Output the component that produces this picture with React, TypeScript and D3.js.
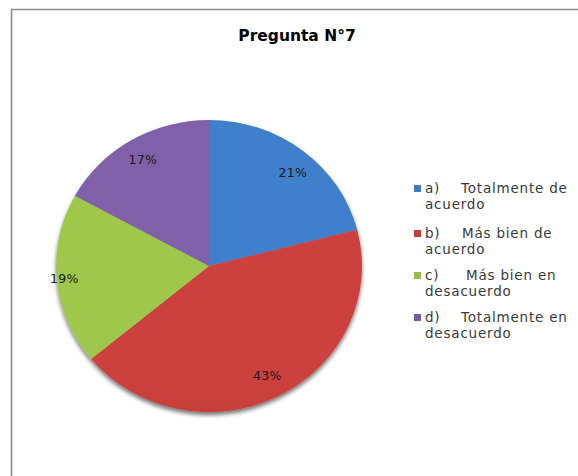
import React from "react";
import * as d3 from "d3";

const categories = ["a)", "b)", "c)", "d)"];
const legendText = [
  ["Totalmente de", "acuerdo"],
  ["Más bien de", "acuerdo"],
  ["Más bien en", "desacuerdo"],
  ["Totalmente en", "desacuerdo"],
];
const values = [21, 43, 19, 17];
const title = "Pregunta N°7";

const colorsTop = ["#3f7fcc", "#cc413d", "#9ec74c", "#8060a8"];
const colorsBottom = ["#2c5c9a", "#9c2a28", "#779536", "#5e4180"];
const legendColors = ["#4078c0", "#c0403c", "#96be4a", "#7a5a9e"];
const labelRadiusFactor = [0.84, 0.84, 0.95, 0.85];
const labelAngleShift = [0.05, 0, 0, 0];
const legendTextDx = [36, 37, 41, 36];

const W = 578;
const H = 476;
const cx = 209;
const cy = 266;
const rx = 153;
const ry = 146;
const FONT = "'DejaVu Sans', sans-serif";

export default function App() {
  const pie = d3.pie<number>().sort(null).value((d) => d);
  const arcs = pie(values);
  const sy = ry / rx;

  return (
    <svg width={W} height={H} style={{ position: "absolute", left: 0, top: 0, background: "#fff" }}>
      <defs>
        {values.map((_, i) => (
          <linearGradient key={i} id={`g${i}`} gradientUnits="userSpaceOnUse" x1="0" y1={cy - ry} x2="0" y2={cy + ry}>
            <stop offset="0" stopColor={colorsTop[i]} />
            <stop offset="1" stopColor={colorsBottom[i]} />
          </linearGradient>
        ))}
        <filter id="sh" x="-20%" y="-20%" width="140%" height="140%">
          <feGaussianBlur in="SourceAlpha" stdDeviation="2.2" />
          <feOffset dx="0" dy="2.5" result="b" />
          <feComponentTransfer>
            <feFuncA type="linear" slope="0.55" />
          </feComponentTransfer>
          <feMerge>
            <feMergeNode />
            <feMergeNode in="SourceGraphic" />
          </feMerge>
        </filter>
      </defs>
      <rect x={0} y={0} width={W} height={H} fill="#fff" />
      <path d={`M11.5,${H} V9.5 H${W}`} fill="none" stroke="#8a8a8a" strokeWidth={1.6} />
      <text x={297} y={41} textAnchor="middle" fontFamily={FONT} fontWeight="bold" fontSize={15.5} fill="#000">
        {title}
      </text>
      <g filter="url(#sh)">
        {arcs.map((a, i) => {
          const path = d3.arc<d3.PieArcDatum<number>>().innerRadius(0).outerRadius(rx)(a) || "";
          return (
            <path
              key={i}
              d={path}
              transform={`translate(${cx},${cy}) scale(1,${sy})`}
              fill={`url(#g${i})`}
            />
          );
        })}
      </g>
      {arcs.map((a, i) => {
        const mid = (a.startAngle + a.endAngle) / 2 + labelAngleShift[i];
        const x = cx + Math.sin(mid) * rx * labelRadiusFactor[i];
        const y = cy - Math.cos(mid) * ry * labelRadiusFactor[i];
        return (
          <text key={i} x={x} y={y} dy="0.35em" textAnchor="middle" fontFamily={FONT} fontSize={12.5} letterSpacing={0.3} fill="#1a1a1a">
            {`${values[i]}%`}
          </text>
        );
      })}
      {categories.map((c, i) => {
        const y0 = [193, 238, 280, 322][i];
        return (
          <g key={i} fontFamily={FONT} fontSize={13.5} letterSpacing={0.8} fill="#3a3a3a">
            <rect x={414} y={y0 - 8} width={7} height={7} fill={legendColors[i]} />
            <text x={425} y={y0}>{c}</text>
            <text x={425 + legendTextDx[i]} y={y0}>{legendText[i][0]}</text>
            <text x={425} y={y0 + 16}>{legendText[i][1]}</text>
          </g>
        );
      })}
    </svg>
  );
}
